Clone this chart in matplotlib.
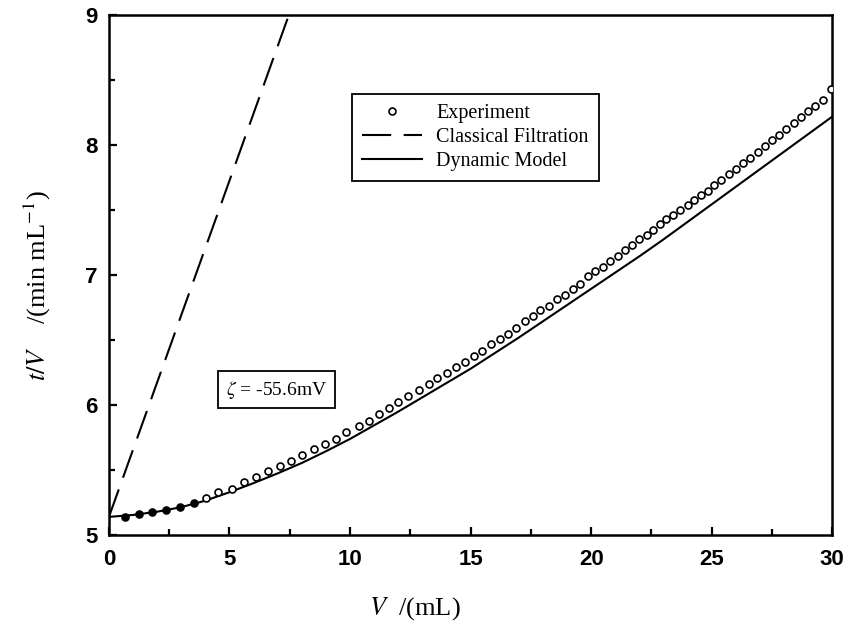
import matplotlib
matplotlib.use("Agg")
import matplotlib.pyplot as plt
from matplotlib.ticker import MultipleLocator

plt.rcParams["mathtext.fontset"] = "stix"

# experiment points
exp_v = [0.65, 1.23, 1.79, 2.37, 2.95, 3.53, 4.04, 4.54, 5.10, 5.60,
         6.10, 6.60, 7.10, 7.55, 8.00, 8.50, 8.95, 9.40, 9.83, 10.39,
         10.80, 11.20, 11.60, 12.00, 12.40, 12.85, 13.26, 13.60, 14.04, 14.40,
         14.76, 15.14, 15.49, 15.85, 16.20, 16.57, 16.90, 17.26, 17.57, 17.89,
         18.24, 18.60, 18.90, 19.24, 19.55, 19.86, 20.15, 20.49, 20.80, 21.10,
         21.40, 21.70, 22.00, 22.30, 22.55, 22.85, 23.10, 23.40, 23.68, 24.00,
         24.28, 24.55, 24.83, 25.10, 25.40, 25.70, 26.00, 26.30, 26.60, 26.90,
         27.20, 27.50, 27.80, 28.10, 28.40, 28.70, 29.00, 29.30, 29.60, 29.95]
exp_tv = [5.14, 5.16, 5.175, 5.195, 5.22, 5.245, 5.285, 5.33, 5.355, 5.41,
          5.45, 5.49, 5.53, 5.57, 5.62, 5.66, 5.70, 5.74, 5.795, 5.84,
          5.88, 5.93, 5.98, 6.025, 6.07, 6.115, 6.16, 6.205, 6.25, 6.29,
          6.33, 6.377, 6.42, 6.467, 6.51, 6.55, 6.59, 6.645, 6.685, 6.73,
          6.76, 6.815, 6.85, 6.895, 6.935, 6.99, 7.03, 7.06, 7.11, 7.15,
          7.19, 7.23, 7.275, 7.31, 7.35, 7.39, 7.43, 7.46, 7.50, 7.54,
          7.58, 7.615, 7.65, 7.69, 7.73, 7.775, 7.82, 7.86, 7.905, 7.95,
          7.995, 8.04, 8.08, 8.125, 8.17, 8.215, 8.26, 8.30, 8.35, 8.43]
n_filled = 6

# dynamic model curve
dyn_v = list(range(0, 31))
dyn_tv = [5.14, 5.155, 5.18, 5.215, 5.265, 5.33, 5.40, 5.475, 5.555, 5.645,
          5.74, 5.845, 5.95, 6.06, 6.17, 6.28, 6.40, 6.52, 6.645, 6.77,
          6.895, 7.02, 7.145, 7.275, 7.41, 7.545, 7.68, 7.815, 7.95, 8.085, 8.22]

# classical filtration (straight line)
cls_v = [0, 8]
cls_tv = [5.14, 9.28]

fig = plt.figure(figsize=(8.51, 6.34), dpi=100)
ax = fig.add_axes([0.128, 0.156, 0.85, 0.82])

ax.plot(exp_v[n_filled:], exp_tv[n_filled:], "o", ms=5, mfc="white", mec="black",
        mew=1.2, label="Experiment", zorder=3)
ax.plot(exp_v[:n_filled], exp_tv[:n_filled], "o", ms=5, mfc="black", mec="black",
        mew=1.2, zorder=3)
ax.plot(cls_v, cls_tv, color="black", lw=1.5, dashes=(14, 6), label="Classical Filtration")
ax.plot(dyn_v, dyn_tv, color="black", lw=1.5, label="Dynamic Model")

ax.set_xlim(0, 30)
ax.set_ylim(5, 9)
ax.xaxis.set_major_locator(MultipleLocator(5))
ax.xaxis.set_minor_locator(MultipleLocator(2.5))
ax.yaxis.set_major_locator(MultipleLocator(1))
ax.yaxis.set_minor_locator(MultipleLocator(0.5))
ax.tick_params(which="both", direction="in", top=False, right=False, width=1.6)
ax.tick_params(which="major", length=6, labelsize=16)
ax.tick_params(axis="x", which="major", pad=10)
ax.tick_params(axis="y", which="major", pad=8)
ax.tick_params(which="minor", length=4)
for lab in ax.get_xticklabels() + ax.get_yticklabels():
    lab.set_fontfamily("Liberation Sans")
    lab.set_fontweight("bold")
for sp in ax.spines.values():
    sp.set_linewidth(1.8)

ax.set_xlabel(r"$V$  /(mL)", fontsize=19, family="Liberation Serif")
ax.xaxis.set_label_coords(0.423, -0.115)
ax.set_ylabel(r"$t/V$    /(min mL$^{\mathrm{-1}}$)", fontsize=19, family="Liberation Serif")
ax.yaxis.set_label_coords(-0.078, 0.48)

leg = ax.legend(loc="upper left", bbox_to_anchor=(0.322, 0.868), fancybox=False,
                edgecolor="black", framealpha=1, handlelength=3.0, borderpad=0.5,
                labelspacing=0.25, handletextpad=0.7,
                prop={"family": "Liberation Serif", "size": 14.5})
leg.get_frame().set_linewidth(1.3)

ax.text(6.95, 6.12, r"$\zeta$ = -55.6mV", fontsize=14, family="Liberation Serif",
        ha="center", va="center",
        bbox=dict(boxstyle="square,pad=0.4", fc="white", ec="black", lw=1.3))

fig.savefig("out.png", dpi=100)
